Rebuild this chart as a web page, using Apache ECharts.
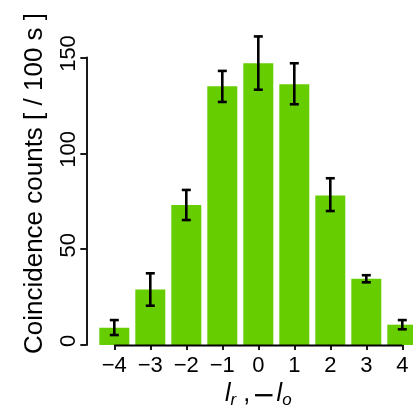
<!DOCTYPE html>
<html>
<head>
<meta charset="utf-8">
<script src="https://cdn.jsdelivr.net/npm/echarts@6/dist/echarts.min.js"></script>
<style>
html,body{margin:0;padding:0;background:#fff;}
#chart{width:413px;height:409px;}
</style>
</head>
<body>
<div id="chart"></div>
<script>
var categories = ['\u22124', '\u22123', '\u22122', '\u22121', '0', '1', '2', '3', '4'];
var counts = [9, 29, 73, 135, 147, 136, 78, 34.6, 10.6];
var errLow = [5.2, 20.5, 65.2, 126.8, 133.2, 125.6, 69.9, 32.7, 8.2];
var errHigh = [13, 37.4, 80.9, 143, 161, 147, 87, 36.4, 13];
var yTicks = [0, 50, 100, 150];

var FONT = 'Liberation Sans, Arial, Helvetica, sans-serif';
var chart = echarts.init(document.getElementById('chart'), null, {renderer: 'canvas'});

var errData = categories.map(function (c, i) { return [i, errLow[i], errHigh[i]]; });

var option = {
  animation: false,
  backgroundColor: '#ffffff',
  grid: {left: 96.3, top: 57.5, width: 324, height: 287.5, containLabel: false, outerBoundsMode: 'none'},
  xAxis: {
    type: 'category',
    data: categories,
    axisLine: {show: false},
    axisTick: {show: true, alignWithLabel: true, length: 5, lineStyle: {color: '#000', width: 1.8}},
    axisLabel: {color: '#000', fontSize: 22, fontFamily: FONT, margin: 10},
    splitLine: {show: false},
    name: '{i|l}{s|r}{n| ,}{m|\u2212}{i|l}{s|o}',
    nameLocation: 'middle',
    nameGap: 32,
    nameTextStyle: {
      color: '#000',
      fontFamily: FONT,
      fontSize: 25,
      rich: {
        i: {fontStyle: 'italic', fontSize: 25, fontFamily: FONT, color: '#000'},
        s: {fontStyle: 'italic', fontSize: 17, fontFamily: FONT, color: '#000', padding: [12, 0, 0, 0]},
        n: {fontSize: 25, fontFamily: FONT, color: '#000'},
        m: {fontSize: 28, fontFamily: 'DejaVu Sans', color: '#000', padding: [4, 1, 0, 2]}
      }
    }
  },
  yAxis: {
    type: 'value',
    min: yTicks[0],
    max: yTicks[yTicks.length - 1],
    interval: 50,
    offset: 10,
    axisLine: {show: true, lineStyle: {color: '#000', width: 1.8}},
    axisTick: {show: true, length: 6, lineStyle: {color: '#000', width: 1.8}},
    axisLabel: {color: '#000', fontSize: 22, fontFamily: FONT, rotate: 90, align: 'center', verticalAlign: 'bottom', margin: 6, padding: [0, 0, 0, 8]},
    splitLine: {show: false}
  },
  graphic: [{
    type: 'text',
    x: 35,
    y: 183.5,
    rotation: Math.PI / 2,
    style: {
      text: 'Coincidence counts [ / 100 s ]',
      font: '26px ' + FONT,
      fill: '#000',
      textAlign: 'center',
      textVerticalAlign: 'middle'
    }
  }],
  series: [
    {
      type: 'bar',
      data: counts,
      barCategoryGap: '16.7%',
      itemStyle: {color: '#66CD00'},
      silent: true
    },
    {
      type: 'custom',
      clip: false,
      silent: true,
      data: [[0, categories.length - 1]],
      renderItem: function (params, api) {
        var a = api.coord([api.value(0), 0]);
        var b = api.coord([api.value(1), 0]);
        return {type: 'line', shape: {x1: a[0], y1: a[1] + 0.5, x2: b[0], y2: b[1] + 0.5},
          style: {stroke: '#000', lineWidth: 1.8}};
      },
      z: 5
    },
    {
      type: 'custom',
      clip: false,
      silent: true,
      data: errData,
      renderItem: function (params, api) {
        var lo = api.coord([api.value(0), api.value(1)]);
        var hi = api.coord([api.value(0), api.value(2)]);
        var w = 4.5;
        var st = {stroke: '#000', lineWidth: 2.6};
        return {type: 'group', children: [
          {type: 'line', shape: {x1: lo[0], y1: lo[1], x2: hi[0], y2: hi[1]}, style: st},
          {type: 'line', shape: {x1: lo[0] - w, y1: lo[1], x2: lo[0] + w, y2: lo[1]}, style: st},
          {type: 'line', shape: {x1: hi[0] - w, y1: hi[1], x2: hi[0] + w, y2: hi[1]}, style: st}
        ]};
      },
      z: 6
    }
  ]
};
chart.setOption(option);
</script>
</body>
</html>
